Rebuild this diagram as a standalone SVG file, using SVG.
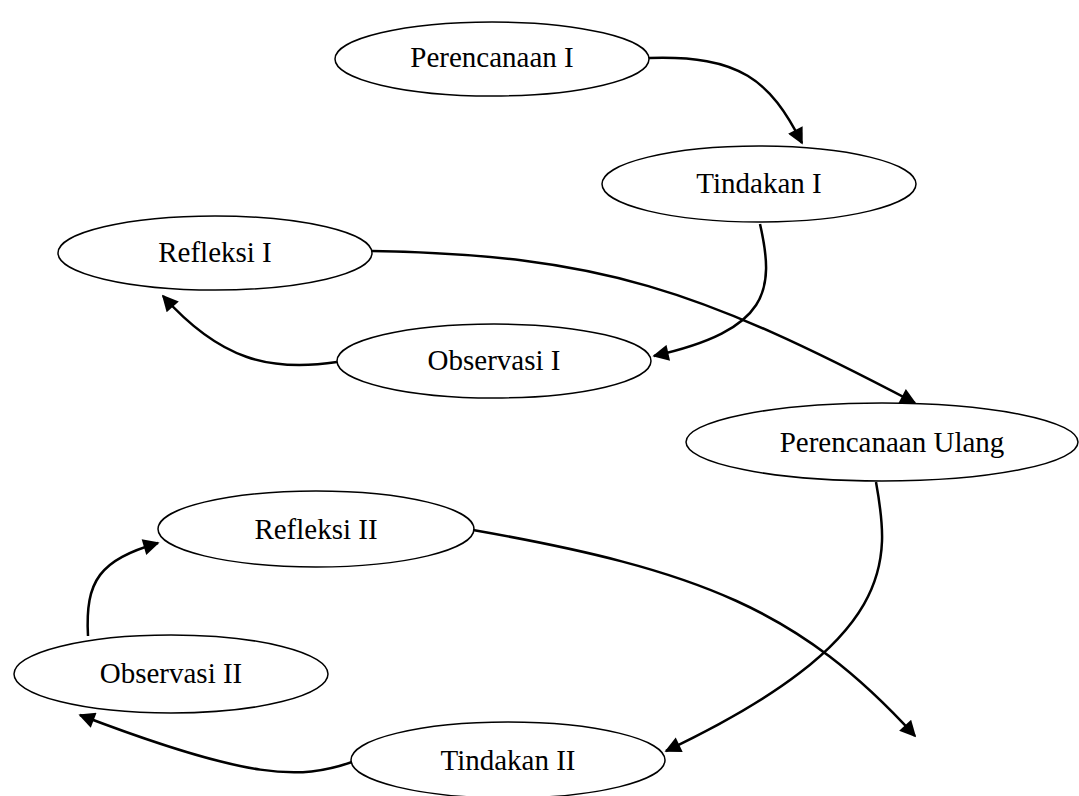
<svg xmlns="http://www.w3.org/2000/svg" width="1079" height="796" viewBox="0 0 1079 796">
<style>
.n ellipse{fill:#fff;stroke:#000;stroke-width:1.5}
.n text{font-family:"Liberation Serif","Times New Roman",serif;font-size:29px;text-anchor:middle;fill:#000}
.c path{fill:none;stroke:#000;stroke-width:2.5;marker-end:url(#ah)}
</style>
<defs>
<marker id="ah" viewBox="0 0 10 10" refX="9" refY="5" markerWidth="7.5" markerHeight="6.5" markerUnits="strokeWidth" orient="auto">
<path d="M0,0 L10,5 L0,10 z" fill="#000"/>
</marker>
</defs>
<rect width="1079" height="796" fill="#fff"/>
<g id="n1" class="n"><ellipse cx="492" cy="59" rx="157" ry="37"/><text x="492" y="67">Perencanaan I</text></g>
<g id="n2" class="n"><ellipse cx="759" cy="184" rx="157" ry="38"/><text x="759" y="193">Tindakan I</text></g>
<g id="n3" class="n"><ellipse cx="215" cy="253" rx="157" ry="37"/><text x="215" y="262">Refleksi I</text></g>
<g id="n4" class="n"><ellipse cx="494" cy="361" rx="157" ry="37"/><text x="494" y="370">Observasi I</text></g>
<g id="n5" class="n"><ellipse cx="882" cy="442" rx="196" ry="39"/><text x="892" y="452">Perencanaan Ulang</text></g>
<g id="n6" class="n"><ellipse cx="316" cy="529" rx="158" ry="38"/><text x="316" y="539">Refleksi II</text></g>
<g id="n7" class="n"><ellipse cx="171" cy="674" rx="157" ry="39"/><text x="171" y="683">Observasi II</text></g>
<g id="n8" class="n"><ellipse cx="508" cy="760" rx="157" ry="38"/><text x="508" y="770">Tindakan II</text></g>
<g id="connectors" class="c">
<path d="M649,58 C740,55 770,80 802,143"/>
<path d="M760,224 C775,290 770,330 654,356"/>
<path d="M337,362 C270,372 220,360 163,296"/>
<path d="M372,251 C600,255 700,290 915,403"/>
<path d="M876,482 C890,560 900,640 666,751"/>
<path d="M352,762 C300,780 250,780 80,715"/>
<path d="M88,636 C85,580 100,560 158,543"/>
<path d="M473,530 C700,570 800,610 915,736"/>
</g>
</svg>
